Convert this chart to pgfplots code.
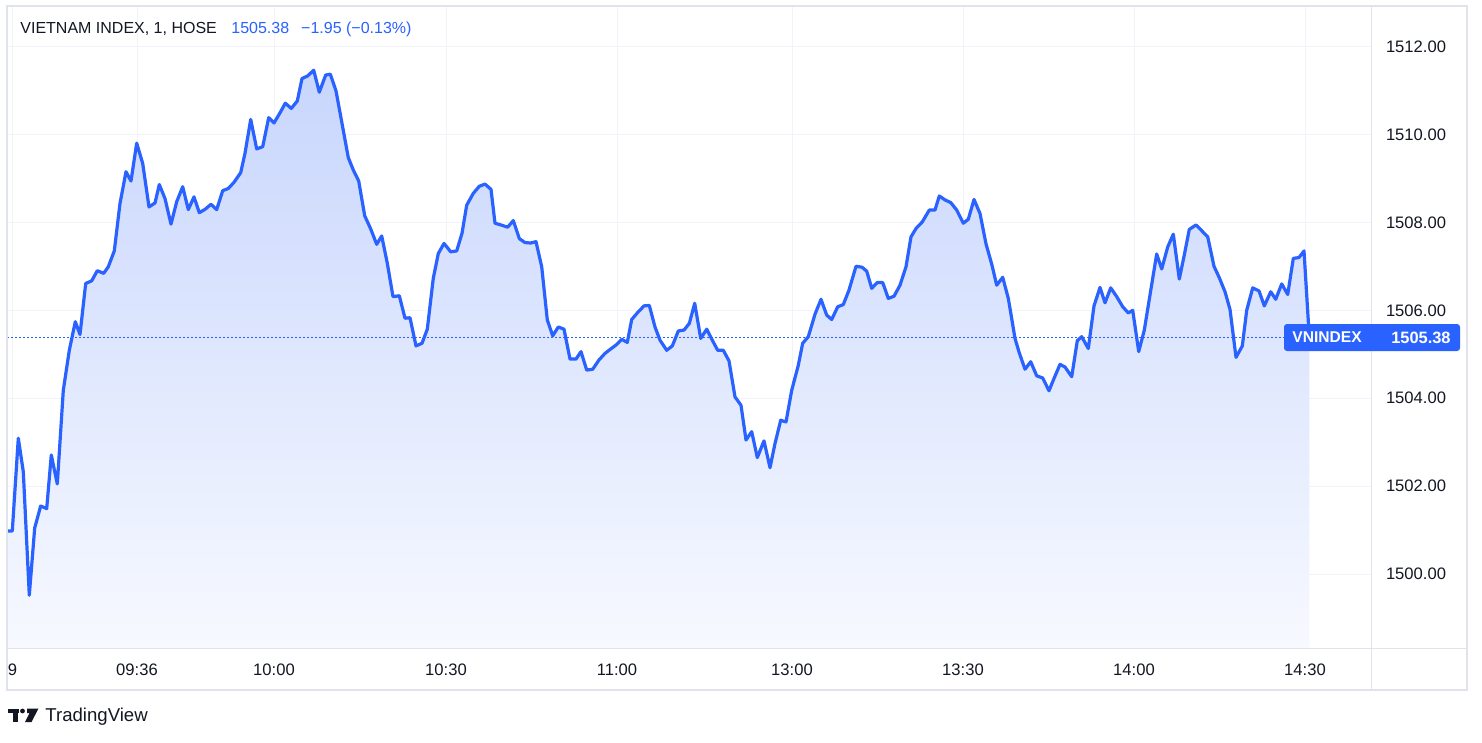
\documentclass[border=0pt]{standalone}
\usepackage{fontspec}
\setmainfont{Liberation Sans}
\usepackage{pgfplots}
\pgfplotsset{compat=1.18}
\usepackage{pgfplotstable}
\definecolor{tvblue}{HTML}{2962FF}
\definecolor{tvtext}{HTML}{131722}
\definecolor{gridc}{HTML}{F0F3FA}
\definecolor{framec}{HTML}{E0E3EB}
\definecolor{filltop}{RGB}{200,214,253}
\definecolor{fillbot}{RGB}{247,249,255}

% x = position along the time axis (one bar per minute), y = index value
\pgfplotstableread{
x y
8.3 1500.98
12.3 1500.98
18.3 1503.09
23.3 1502.33
29.3 1499.52
34.7 1501.05
40.7 1501.55
46.7 1501.49
51.3 1502.71
57.3 1502.05
63.3 1504.18
69.3 1505.09
75.3 1505.74
80 1505.45
85.7 1506.61
91.7 1506.67
97.3 1506.90
103.7 1506.84
108.3 1506.99
114.3 1507.35
120 1508.43
126 1509.15
131 1508.94
136.7 1509.80
142.7 1509.34
149 1508.35
155 1508.44
159.3 1508.86
165 1508.54
171 1507.96
176.7 1508.47
182.7 1508.81
188.3 1508.29
194 1508.58
199.3 1508.22
205.3 1508.30
211 1508.41
216.7 1508.29
222.7 1508.72
228.3 1508.77
234 1508.91
240.7 1509.13
245 1509.57
250.7 1510.34
256.7 1509.67
262.7 1509.72
268.7 1510.38
274 1510.26
280 1510.49
285.3 1510.71
291.3 1510.59
297.3 1510.76
302 1511.27
307.7 1511.33
313.7 1511.46
319.3 1510.96
325.7 1511.35
330.3 1511.37
336 1510.99
342 1510.25
348.3 1509.47
353.3 1509.19
358.7 1508.94
364.7 1508.15
370.7 1507.85
376.7 1507.50
381.7 1507.69
387.3 1507.07
393 1506.31
399.3 1506.33
405 1505.82
410 1505.83
416 1505.19
422 1505.25
427.3 1505.57
433.3 1506.73
438.3 1507.29
444 1507.52
450.7 1507.33
456.7 1507.35
462 1507.75
466.7 1508.39
473.3 1508.66
479.3 1508.82
485 1508.87
491 1508.75
495 1507.98
501 1507.94
507.7 1507.89
513.3 1508.04
519.3 1507.63
525 1507.54
530.7 1507.53
536 1507.56
541.7 1506.99
547.3 1505.78
552.7 1505.42
558.3 1505.62
564 1505.57
570 1504.89
576 1504.89
581 1505.06
586.7 1504.64
592.7 1504.66
599 1504.87
605 1505.02
610.7 1505.12
616 1505.21
621.7 1505.34
627.3 1505.27
631.7 1505.79
637.3 1505.94
644 1506.10
649.3 1506.11
655 1505.62
660 1505.32
666.7 1505.09
672.3 1505.19
678.3 1505.53
684 1505.55
689.3 1505.70
694.7 1506.16
700.7 1505.36
706.7 1505.57
712.3 1505.32
717.7 1505.09
723.3 1505.09
729 1504.85
735 1504.03
741 1503.84
746 1503.05
751.7 1503.24
757.3 1502.65
764 1503.03
770 1502.42
775 1502.97
780.7 1503.50
786 1503.46
791.7 1504.18
798.3 1504.75
802.7 1505.25
808.3 1505.40
815 1505.91
821 1506.25
826.7 1505.89
831.7 1505.79
837.7 1506.08
843.3 1506.13
849 1506.46
856 1507.00
862 1506.98
866.7 1506.89
871.7 1506.50
877.3 1506.63
882.7 1506.63
888.3 1506.27
894 1506.32
900 1506.57
906 1506.99
911 1507.67
916 1507.86
922.3 1508.01
929.3 1508.28
935 1508.28
939.3 1508.60
945 1508.51
950.7 1508.45
956.7 1508.28
963.3 1507.98
968.3 1508.07
974 1508.52
980 1508.20
986 1507.51
991.7 1507.05
996.7 1506.57
1002.7 1506.75
1008.3 1506.27
1015 1505.36
1019.3 1505.03
1025 1504.66
1030.7 1504.83
1036.7 1504.51
1042.7 1504.46
1049 1504.17
1054 1504.45
1060 1504.77
1065 1504.71
1071.7 1504.49
1077.3 1505.31
1081.7 1505.40
1088.3 1505.13
1094 1506.10
1100 1506.52
1105 1506.17
1110.7 1506.51
1116.7 1506.31
1122.7 1506.08
1128.3 1505.94
1132.7 1506.00
1138.7 1505.06
1144.3 1505.55
1150 1506.35
1156.7 1507.28
1161.7 1506.94
1167.7 1507.44
1173.3 1507.73
1179.3 1506.71
1184.3 1507.26
1189.3 1507.84
1196 1507.94
1201.7 1507.81
1207.7 1507.67
1214 1507.00
1219.3 1506.74
1225 1506.42
1230 1506.02
1236 1504.93
1242.3 1505.19
1246.7 1506.00
1252.7 1506.51
1259 1506.44
1264.3 1506.10
1270.7 1506.42
1275.7 1506.25
1281.7 1506.60
1287.7 1506.36
1293.3 1507.18
1299 1507.20
1304 1507.35
1309.3 1505.38
}\vnindex

\begin{document}
\begin{tikzpicture}[x=0.5pt,y=-0.5pt]
\fill[white] (0,0) rectangle (1482,743);
\path[use as bounding box] (0,0) rectangle (1482,743);
\begin{axis}[
  at={(3.5pt,-3pt)}, anchor=north west,
  scale only axis, width=682pt, height=321pt,
  xmin=7, xmax=1371, ymin=1498.32, ymax=1512.92,
  axis line style={draw=none},
  xtick={12.5,137,274,446,617,792,963,1134,1305},
  xticklabels={9,09:36,10:00,10:30,11:00,13:00,13:30,14:00,14:30},
  ytick={1500,1502,1504,1506,1508,1510,1512},
  yticklabels={1500.00,1502.00,1504.00,1506.00,1508.00,1510.00,1512.00},
  yticklabel pos=right,
  major tick length=0pt,
  grid=major,
  major grid style={gridc, line width=0.5pt},
  ticklabel style={font=\fontsize{8.3pt}{10pt}\selectfont, text=tvtext},
  xticklabel style={anchor=center, yshift=-11pt},
  yticklabel style={anchor=center, xshift=22.5pt},
  /pgf/number format/assume math mode=true,
]
\addplot[draw=none, top color=filltop, bottom color=fillbot] table[x=x,y=y]{\vnindex} |- (axis cs:8.3,1498.32) -- cycle;
\addplot[tvblue, line width=0.5pt, dash pattern=on 1pt off 1pt] coordinates {(7,1505.38) (1371,1505.38)};
\addplot[tvblue, line width=1.6pt, line join=round, line cap=round] table[x=x,y=y]{\vnindex};
\end{axis}
% frame
\draw[framec, line width=0.5pt] (7,648) -- (1467,648);
\draw[framec, line width=0.5pt] (1371,6) -- (1371,690);
\draw[framec, line width=1pt] (7,6) rectangle (1467,690);
% header
\node[anchor=base west, inner sep=0, font=\fontsize{8pt}{9.6pt}\selectfont, text=tvtext] at (20,34) {VIETNAM INDEX, 1, HOSE};
\node[anchor=base west, inner sep=0, font=\fontsize{8pt}{9.6pt}\selectfont, text=tvblue] at (231,34) {1505.38\hspace{6pt}−1.95 (−0.13\%)};
% last value label
\fill[tvblue, rounded corners=1.5pt] (1284,324) rectangle (1460,351);
\node[anchor=west, inner sep=0, font=\bfseries\fontsize{7.8pt}{9pt}\selectfont, text=white] at (1292,337.5) {VNINDEX};
\node[anchor=east, inner sep=0, font=\bfseries\fontsize{8.2pt}{9pt}\selectfont, text=white] at (1451,337.5) {1505.38};
% TradingView logo
\fill[tvtext] (7.5,708.5) rectangle (19,713);
\fill[tvtext] (12.5,708.5) rectangle (17.5,722);
\fill[tvtext] (22.5,711) circle (2.4);
\fill[tvtext] (27,708.5) -- (38.5,708.5) -- (31.5,722) -- (25,722) -- (29.5,713) -- (27,713) -- cycle;
\node[anchor=base west, inner sep=0, font=\fontsize{9.3pt}{11pt}\selectfont, text=tvtext] at (45,721) {TradingView};
\end{tikzpicture}
\end{document}
